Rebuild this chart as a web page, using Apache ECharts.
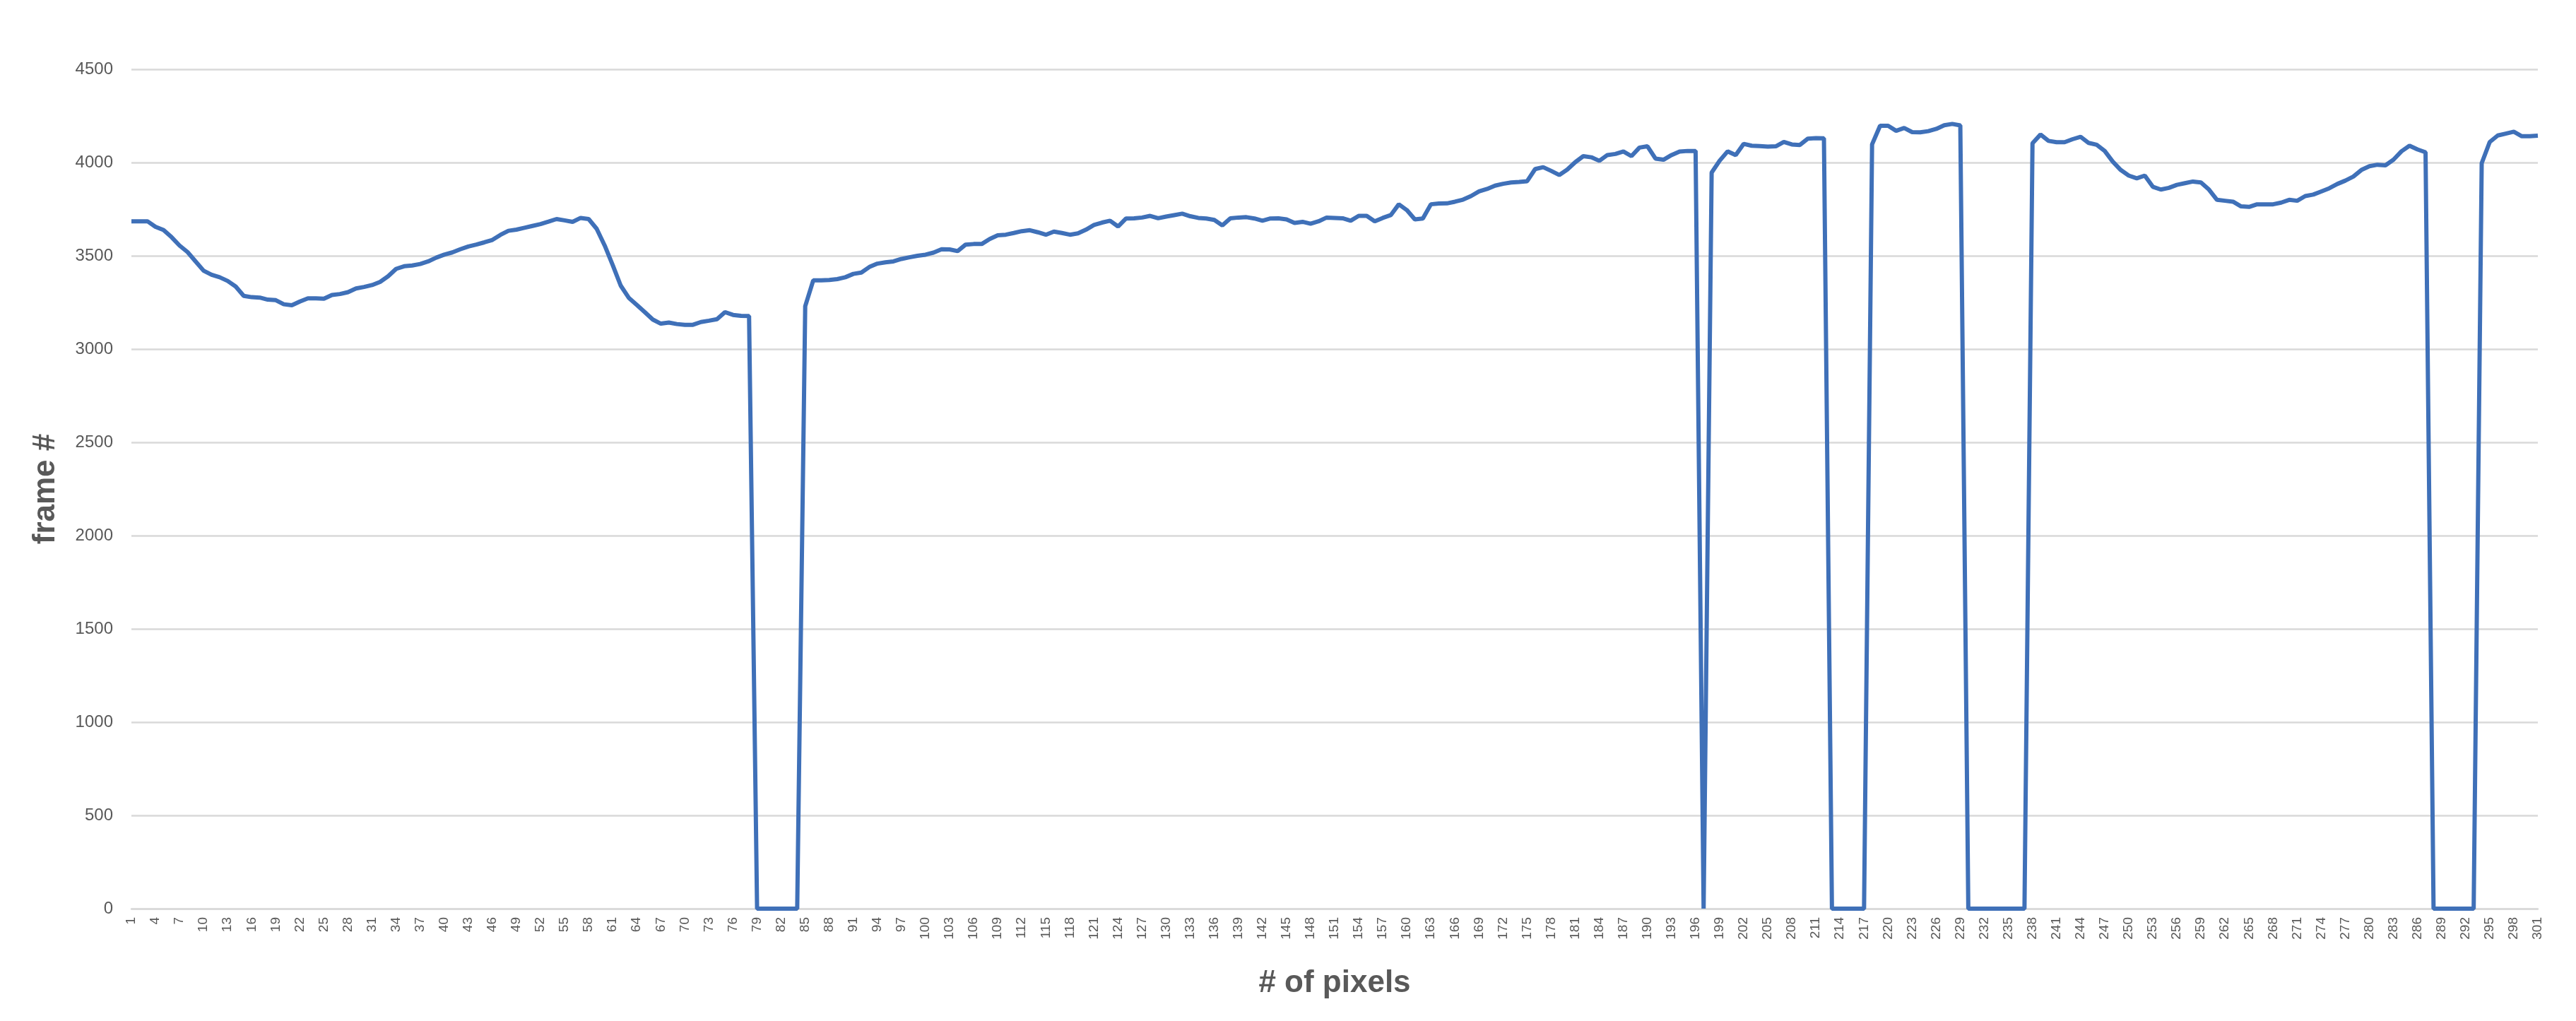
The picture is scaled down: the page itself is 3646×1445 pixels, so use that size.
<!DOCTYPE html>
<html>
<head>
<meta charset="utf-8">
<script src="https://cdn.jsdelivr.net/npm/echarts@6/dist/echarts.min.js"></script>
<style>
html, body { margin: 0; padding: 0; background: #fff; }
#chart { width: 3646px; height: 1445px; }
</style>
</head>
<body>
<div id="chart"></div>
<script>
// pixel index on the x axis (1..301)
var pixelCount = 301;
var pixelLabels = [];
for (var p = 1; p <= pixelCount; p++) { pixelLabels.push(String(p)); }

// frame # per pixel
var frameCounts = [
	3685, 3685, 3685, 3655, 3638, 3600, 3555, 3520, 3470, 3420,
	3398, 3385, 3365, 3335, 3285, 3278, 3276, 3265, 3262, 3240,
	3235, 3255, 3272, 3272, 3270, 3290, 3295, 3305, 3325, 3333,
	3343, 3360, 3390, 3430, 3444, 3448, 3456, 3470, 3490, 3506,
	3518, 3535, 3550, 3560, 3572, 3585, 3612, 3634, 3640, 3650,
	3660, 3670, 3683, 3697, 3690, 3682, 3703, 3697, 3645, 3555,
	3450, 3340, 3275, 3237, 3198, 3158, 3136, 3142, 3134, 3130,
	3130, 3145, 3152, 3160, 3198, 3183, 3178, 3177, 0, 0,
	0, 0, 0, 0, 3230, 3368, 3368, 3370, 3375, 3385,
	3403, 3410, 3440, 3458, 3465, 3470, 3483, 3492, 3500, 3506,
	3517, 3535, 3534, 3525, 3560, 3563, 3563, 3590, 3610, 3613,
	3622, 3632, 3637, 3626, 3613, 3630, 3622, 3613, 3620, 3640,
	3665, 3678, 3688, 3657, 3700, 3701, 3705, 3714, 3701, 3710,
	3718, 3726, 3712, 3703, 3700, 3692, 3663, 3701, 3705, 3707,
	3700, 3688, 3700, 3701, 3695, 3676, 3682, 3672, 3685, 3705,
	3703, 3701, 3688, 3714, 3714, 3685, 3703, 3718, 3776, 3745,
	3695, 3700, 3776, 3780, 3781, 3790, 3801, 3820, 3845, 3858,
	3876, 3886, 3893, 3896, 3900, 3965, 3975, 3955, 3933, 3962,
	4002, 4034, 4028, 4009, 4040, 4046, 4059, 4034, 4080, 4087,
	4021, 4015, 4040, 4059, 4062, 4062, 0, 3946, 4010, 4060,
	4040, 4100, 4090, 4088, 4085, 4087, 4110, 4097, 4094, 4128,
	4131, 4130, 0, 0, 0, 0, 0, 4097, 4197, 4197,
	4170, 4185, 4163, 4162, 4168, 4180, 4200, 4207, 4199, 0,
	0, 0, 0, 0, 0, 0, 0, 4103, 4150, 4116,
	4109, 4109, 4125, 4138, 4105, 4095, 4062, 4005, 3960, 3930,
	3915, 3930, 3870, 3855, 3864, 3880, 3889, 3898, 3893, 3855,
	3800, 3795, 3790, 3765, 3762, 3776, 3776, 3776, 3785, 3800,
	3795, 3820, 3828, 3845, 3862, 3885, 3903, 3925, 3960, 3980,
	3988, 3985, 4015, 4060, 4090, 4070, 4055, 0, 0, 0,
	0, 0, 0, 3996, 4110, 4145, 4155, 4165, 4141, 4141,
	4144
];

// y axis range
var yMin = 0;
var yMax = 4500;
var yStep = 500;

var chart = echarts.init(document.getElementById('chart'));
var option = {
	backgroundColor: '#ffffff',
	animation: false,
	textStyle: { fontFamily: 'Liberation Sans, Arial, sans-serif' },
	grid: { left: 186, right: 54, top: 98, bottom: 159 },
	xAxis: {
		type: 'category',
		data: pixelLabels,
		boundaryGap: false,
		name: '# of pixels',
		nameLocation: 'middle',
		nameGap: 84,
		nameTextStyle: { fontSize: 44, fontWeight: 'bold', color: '#595959' },
		axisLine: { lineStyle: { color: '#d9d9d9', width: 2.5 } },
		axisTick: { show: false },
		axisLabel: {
			interval: 2,
			rotate: 90,
			fontSize: 19,
			color: '#595959',
			margin: 12
		},
		splitLine: { show: false }
	},
	yAxis: {
		type: 'value',
		min: yMin,
		max: yMax,
		interval: yStep,
		name: 'frame #',
		nameLocation: 'middle',
		nameGap: 99,
		nameTextStyle: { fontSize: 44, fontWeight: 'bold', color: '#595959' },
		axisLine: { show: false },
		axisTick: { show: false },
		axisLabel: {
			fontSize: 24,
			color: '#595959',
			margin: 26,
			formatter: function (v) { return String(v); }
		},
		splitLine: { lineStyle: { color: '#d9d9d9', width: 2.5 } }
	},
	series: [
		{
			type: 'line',
			name: 'frame #',
			data: frameCounts,
			showSymbol: false,
			lineStyle: { color: '#3f70b8', width: 6 },
			itemStyle: { color: '#3f70b8' }
		}
	]
};
chart.setOption(option);
</script>
</body>
</html>
